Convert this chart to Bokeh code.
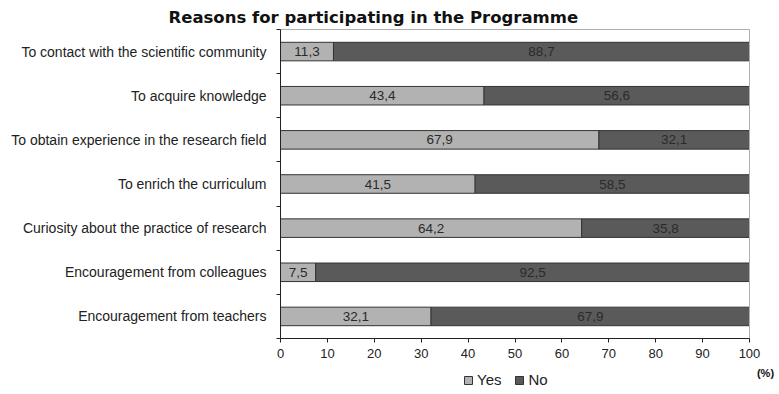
from bokeh.plotting import figure
from bokeh.models import FixedTicker, Legend, LegendItem, ColumnDataSource, Range1d, Title, Label
from bokeh.core.properties import value
from bokeh.embed import file_html
from bokeh.resources import INLINE

# Data (bottom to top)
categories = [
    "Encouragement from teachers",
    "Encouragement from colleagues",
    "Curiosity about the practice of research",
    "To enrich the curriculum",
    "To obtain experience in the research field",
    "To acquire knowledge",
    "To contact with the scientific community",
]
yes = [32.1, 7.5, 64.2, 41.5, 67.9, 43.4, 11.3]
no = [67.9, 92.5, 35.8, 58.5, 32.1, 56.6, 88.7]
x_ticks = [0, 10, 20, 30, 40, 50, 60, 70, 80, 90, 100]
series = ["Yes", "No"]

FONT = "Liberation Sans"
YES_COLOR = "#b2b2b2"
NO_COLOR = "#5a5a5a"

n = len(categories)
xmax = x_ticks[-1]
ypos = [i + 0.5 for i in range(n)]
src = ColumnDataSource(dict(
    y=ypos, yes=yes, no=no,
    yes_mid=[v / 2 for v in yes],
    no_mid=[a + b / 2 for a, b in zip(yes, no)],
    yes_lbl=[f"{v:.1f}".replace(".", ",") for v in yes],
    no_lbl=[f"{v:.1f}".replace(".", ",") for v in no],
))

# The frame covers the whole canvas below the title; axes are pinned so that
# the data area (0..100, 0..7) sits at x 280..749, y 29..338.
p = figure(width=779, height=394, output_backend="svg", toolbar_location=None,
           x_range=Range1d(-xmax * 280 / 469, xmax * 499 / 469),
           y_range=Range1d(-n * 56 / 309, n + n * 1 / 309),
           min_border_left=0, min_border_right=0, min_border_top=28, min_border_bottom=0)
p.title = Title(text="Reasons for participating in the Programme", align="left",
                offset=168, vertical_align="middle", text_font="DejaVu Sans",
                text_font_size="16.5px", text_font_style="bold",
                text_color="#111111", standoff=2)

r_yes = p.hbar(y="y", left=0, right="yes", height=0.42, source=src,
               fill_color=YES_COLOR, line_color="#333333", line_width=1)
r_no = p.hbar(y="y", left="yes", right=xmax, height=0.42, source=src,
              fill_color=NO_COLOR, line_color="#333333", line_width=1)

p.text(x="yes_mid", y="y", text="yes_lbl", source=src, text_align="center",
       text_baseline="middle", text_font=value(FONT), text_font_size="13.5px", text_color="#2a2a2a")
p.text(x="no_mid", y="y", text="no_lbl", source=src, text_align="center",
       text_baseline="middle", text_font=value(FONT), text_font_size="13.5px", text_color="#2a2a2a")

# plot-area border (top and right edges)
p.segment(x0=[0, xmax], y0=[n, 0], x1=[xmax, xmax], y1=[n, n], line_color="#b0b0b0", line_width=1)

p.xgrid.visible = False
p.ygrid.visible = False
p.outline_line_color = None
p.background_fill_color = "white"

xa = p.xaxis[0]
xa.fixed_location = 0
xa.bounds = (0, xmax)
xa.ticker = FixedTicker(ticks=x_ticks)
xa.major_tick_in = 0
xa.major_tick_out = 4
xa.minor_tick_line_color = None
xa.axis_line_color = "#222222"
xa.major_tick_line_color = "#222222"
xa.major_label_text_font = FONT
xa.major_label_text_font_size = "13px"
xa.major_label_text_color = "#222222"
xa.major_label_standoff = 6

ya = p.yaxis[0]
ya.fixed_location = 0
ya.bounds = (0, n)
ya.ticker = FixedTicker(ticks=ypos, minor_ticks=list(range(n + 1)))
ya.major_label_overrides = {y: c for y, c in zip(ypos, categories)}
ya.major_tick_line_color = None
ya.minor_tick_in = 0
ya.minor_tick_out = 4
ya.minor_tick_line_color = "#222222"
ya.axis_line_color = "#222222"
ya.major_label_text_font = FONT
ya.major_label_text_font_size = "14px"
ya.major_label_text_color = "#222222"
ya.major_label_standoff = 8

p.add_layout(Label(x=xmax, y=-n * 34 / 309, x_offset=16, text="(%)", text_font=FONT,
                   text_font_size="11px", text_font_style="bold", text_color="#111111",
                   text_align="center", text_baseline="middle"))

legend = Legend(items=[LegendItem(label=series[0], renderers=[r_yes]),
                       LegendItem(label=series[1], renderers=[r_no])],
                orientation="horizontal", location=(463, 6),
                label_text_font=FONT, label_text_font_size="15px", label_text_color="#222222",
                glyph_width=10, glyph_height=10, label_standoff=4, spacing=13,
                padding=0, margin=0, border_line_color=None, background_fill_alpha=0,
                label_height=14)
p.add_layout(legend)

open("out.html", "w").write(file_html(p, INLINE))
